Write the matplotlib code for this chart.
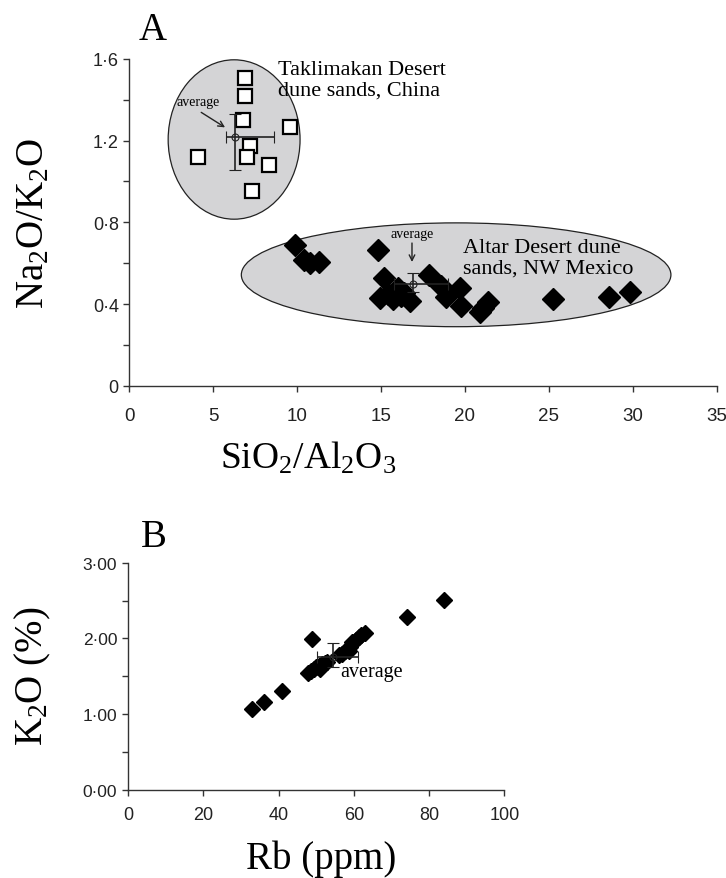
import matplotlib
matplotlib.use("Agg")
import matplotlib.pyplot as plt
from matplotlib.patches import Ellipse

plt.rcParams['mathtext.fontset'] = 'custom'
plt.rcParams['mathtext.rm'] = 'Liberation Serif'
plt.rcParams['mathtext.default'] = 'rm'

# ---------------- data ----------------
# Panel A: Taklimakan Desert dune sands (open squares)
tak_x = [6.9, 6.9, 6.8, 9.6, 7.2, 4.1, 7.0, 8.35, 7.3]
tak_y = [1.505, 1.42, 1.298, 1.265, 1.175, 1.118, 1.118, 1.081, 0.955]
tak_avg = (6.3, 1.215)
tak_xerr = ([0.54], [2.3])
tak_yerr = ([0.16], [0.116])

# Panel A: Altar Desert dune sands (filled diamonds)
alt_x = [9.9, 10.4, 10.8, 11.3, 14.8, 15.2, 14.95, 15.7, 16.0, 16.4, 16.75,
         17.85, 18.6, 18.85, 19.7, 19.75, 20.9, 21.35, 21.1, 25.25, 28.6,
         29.85, 15.4, 16.2]
alt_y = [0.69, 0.615, 0.60, 0.605, 0.665, 0.525, 0.43, 0.425, 0.48, 0.455,
         0.415, 0.54, 0.49, 0.435, 0.48, 0.39, 0.36, 0.41, 0.38, 0.425,
         0.435, 0.46, 0.45, 0.44]
alt_avg = (16.9, 0.50)
alt_xerr = ([1.1], [2.1])
alt_yerr = ([0.04], [0.05])

# Panel B: Rb vs K2O
rb = [33.0, 36.0, 41.0, 48.8, 47.9, 48.5, 49.3, 49.8, 50.6, 51.0, 51.5,
      52.3, 52.8, 56.0, 56.8, 57.5, 58.7, 59.0, 59.5, 60.5, 61.3, 62.0,
      63.0, 74.0, 84.0]
k2o = [1.065, 1.165, 1.31, 1.995, 1.545, 1.575, 1.60, 1.62, 1.64, 1.60,
       1.665, 1.67, 1.686, 1.775, 1.80, 1.84, 1.84, 1.89, 1.95, 1.985,
       2.015, 2.04, 2.075, 2.285, 2.515]
b_avg = (54.5, 1.76)
b_xerr = ([4.4], [6.5])
b_yerr = ([0.14], [0.18])

a_xticks = [0, 5, 10, 15, 20, 25, 30, 35]
a_yticks = [0, 0.2, 0.4, 0.6, 0.8, 1.0, 1.2, 1.4, 1.6]
a_ylabels = ['0', '', '0·4', '', '0·8', '', '1·2', '', '1·6']
b_xticks = [0, 20, 40, 60, 80, 100]
b_yticks = [0, 0.5, 1.0, 1.5, 2.0, 2.5, 3.0]
b_ylabels = ['0·00', '', '1·00', '', '2·00', '', '3·00']

# ---------------- figure ----------------
SERIF = ['Liberation Serif', 'DejaVu Serif']
SANS = ['Liberation Sans', 'DejaVu Sans']
GRAY = '#d4d4d6'
AX = '#333333'

fig = plt.figure(figsize=(7.26, 8.79), dpi=100)

def style_axes(ax, xt, yt, ylab, xpad, ypad, xfs, yfs):
    for s in ['top', 'right']:
        ax.spines[s].set_visible(False)
    for s in ['left', 'bottom']:
        ax.spines[s].set_color(AX)
        ax.spines[s].set_linewidth(1.0)
    ax.set_xticks(xt)
    ax.set_xticklabels([str(t) for t in xt], fontfamily=SANS, fontsize=xfs, color='#222222')
    ax.set_yticks(yt)
    ax.set_yticklabels(ylab, fontfamily=SANS, fontsize=yfs, color='#222222')
    ax.tick_params(axis='x', direction='out', length=4.5, width=1, color=AX, pad=xpad)
    ax.tick_params(axis='y', direction='out', length=4.5, width=1, color=AX, pad=ypad)

# ---- Panel A ----
axA = fig.add_axes([0.178, 0.560, 0.809, 0.372])
axA.set_xlim(0, 35)
axA.set_ylim(0, 1.6)

e1 = Ellipse((6.25, 1.205), 7.86, 0.78, facecolor=GRAY, edgecolor='#222222', lw=0.9, zorder=1)
e2 = Ellipse((19.48, 0.543), 25.6, 0.508, facecolor=GRAY, edgecolor='#222222', lw=0.9, zorder=1)
axA.add_patch(e1)
axA.add_patch(e2)

axA.plot(alt_x, alt_y, linestyle='none', marker='D', ms=11, mfc='black', mec='black', zorder=3)
axA.plot(tak_x, tak_y, linestyle='none', marker='s', ms=10, mfc='white', mec='black', mew=1.6, zorder=3)

for (cx, cy), xe, ye in [(tak_avg, tak_xerr, tak_yerr), (alt_avg, alt_xerr, alt_yerr)]:
    axA.errorbar([cx], [cy], xerr=xe, yerr=ye, fmt='o', ms=5, mfc='none', mec='#222222',
                 mew=0.8, ecolor='#222222', elinewidth=1.2, capsize=4, capthick=1.2, zorder=4)

axA.text(4.1, 1.393, 'average', fontfamily=SERIF, fontsize=10, ha='center', va='center', zorder=5)
axA.annotate('', xy=(5.85, 1.257), xytext=(4.15, 1.345),
             arrowprops=dict(arrowstyle='->', color='#222222', lw=1.0), zorder=5)
axA.text(16.85, 0.745, 'average', fontfamily=SERIF, fontsize=10, ha='center', va='center', zorder=5)
axA.annotate('', xy=(16.85, 0.592), xytext=(16.85, 0.712),
             arrowprops=dict(arrowstyle='->', color='#222222', lw=1.0), zorder=5)

axA.text(8.85, 1.595, 'Taklimakan Desert\ndune sands, China', fontfamily=SERIF, fontsize=16,
         ha='left', va='top', linespacing=1.15, zorder=5)
axA.text(19.9, 0.725, 'Altar Desert dune\nsands, NW Mexico', fontfamily=SERIF, fontsize=16,
         ha='left', va='top', linespacing=1.15, zorder=5)

style_axes(axA, a_xticks, a_yticks, a_ylabels, xpad=11, ypad=3, xfs=13.5, yfs=13)

fig.text(0.210, 0.986, 'A', fontfamily=SERIF, fontsize=28, ha='center', va='top')
fig.text(0.046, 0.746, 'Na$_2$O/K$_2$O', fontfamily=SERIF, fontsize=28, rotation=90,
         ha='center', va='center')
fig.text(0.424, 0.478, 'SiO$_2$/Al$_2$O$_3$', fontfamily=SERIF, fontsize=27,
         ha='center', va='center')

# ---- Panel B ----
axB = fig.add_axes([0.1767, 0.1005, 0.518, 0.258])
axB.set_xlim(0, 100)
axB.set_ylim(0, 3.0)

axB.plot(rb, k2o, linestyle='none', marker='D', ms=8, mfc='black', mec='black', zorder=3)
axB.errorbar([b_avg[0]], [b_avg[1]], xerr=b_xerr, yerr=b_yerr, fmt='o', ms=5, mfc='none',
             mec='#222222', mew=0.8, ecolor='#222222', elinewidth=1.2, capsize=4,
             capthick=1.2, zorder=4)
axB.text(56.3, 1.51, 'average', fontfamily=SERIF, fontsize=14.5, ha='left', va='baseline', zorder=5)

style_axes(axB, b_xticks, b_yticks, b_ylabels, xpad=7, ypad=3.5, xfs=13, yfs=12.5)

fig.text(0.212, 0.410, 'B', fontfamily=SERIF, fontsize=28, ha='center', va='top')
fig.text(0.046, 0.231, 'K$_2$O (%)', fontfamily=SERIF, fontsize=28, rotation=90,
         ha='center', va='center')
fig.text(0.443, 0.001, 'Rb (ppm)', fontfamily=SERIF, fontsize=28, ha='center', va='bottom')

fig.savefig('out.png', dpi=100)
